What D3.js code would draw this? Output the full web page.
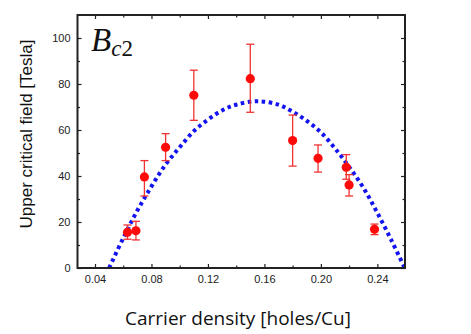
<!DOCTYPE html>
<html>
<head>
<meta charset="utf-8">
<script src="https://cdn.jsdelivr.net/npm/d3@7"></script>
<style>
  body { margin: 0; background: #fff; }
  svg { display: block; }
  .tick text { font-family: "Liberation Sans", Arial, sans-serif; font-size: 11px; fill: #222; }
</style>
</head>
<body>
<div id="chart"></div>
<script>
// measured points: doping (holes/Cu), Bc2 (Tesla), error bar ends
var dopings = [0.063, 0.069, 0.075, 0.090, 0.110, 0.150, 0.180, 0.198, 0.218, 0.220, 0.238];
var bc2     = [15.5, 16.2, 39.6, 52.5, 75.1, 82.3, 55.4, 47.7, 43.8, 36.1, 16.8];
var errHi   = [18.7, 20.3, 46.7, 58.4, 86.0, 97.3, 66.5, 53.5, 49.3, 40.6, 19.1];
var errLo   = [12.5, 12.2, 31.3, 46.7, 64.2, 67.7, 44.3, 41.7, 38.6, 31.3, 14.5];

// dome fit
var fitX = [0.050, 0.06, 0.07, 0.08, 0.09, 0.10, 0.11, 0.12, 0.13, 0.14, 0.155, 0.17, 0.18, 0.19, 0.20, 0.21, 0.22, 0.23, 0.24, 0.25, 0.259];
var fitY = [0, 13, 25, 35.5, 45, 52.5, 59.5, 64.5, 68.5, 71, 72.5, 71, 68, 64, 59, 52, 44, 35, 24, 12, 0.5];

var xMajor = [0.04, 0.08, 0.12, 0.16, 0.20, 0.24];
var xMinor = [0.06, 0.10, 0.14, 0.18, 0.22];
var yMajor = [0, 20, 40, 60, 80, 100];
var yMinor = [10, 30, 50, 70, 90];

var W = 471, H = 334;
var m = {left: 77.5, right: 405, top: 15, bottom: 268};

var svg = d3.select('#chart').append('svg')
  .attr('width', W)
  .attr('height', H);

var x = d3.scaleLinear().domain([0.0276, 0.2596]).range([m.left, m.right]);
var y = d3.scaleLinear().domain([0, 110]).range([m.bottom, m.top]);

svg.append('clipPath').attr('id', 'plotclip')
  .append('rect')
  .attr('x', m.left).attr('y', m.top)
  .attr('width', m.right - m.left).attr('height', m.bottom - m.top);

// ticks, all pointing inward
function addAxis(axis, tx, ty) {
  var g = svg.append('g').attr('transform', 'translate(' + tx + ',' + ty + ')').call(axis);
  g.select('.domain').remove();
  g.selectAll('.tick line').attr('stroke', '#222').attr('stroke-width', 1.2);
  return g;
}
addAxis(d3.axisBottom(x).tickValues(xMajor).tickSize(-4).tickPadding(7).tickFormat(d3.format('.2f')), 0, m.bottom);
addAxis(d3.axisBottom(x).tickValues(xMinor).tickSize(-2.5).tickFormat(''), 0, m.bottom);
addAxis(d3.axisTop(x).tickValues(xMajor).tickSize(-4).tickFormat(''), 0, m.top);
addAxis(d3.axisTop(x).tickValues(xMinor).tickSize(-2.5).tickFormat(''), 0, m.top);
addAxis(d3.axisLeft(y).tickValues(yMajor).tickSize(-4).tickPadding(7).tickFormat(d3.format('d')), m.left, 0);
addAxis(d3.axisLeft(y).tickValues(yMinor).tickSize(-2.5).tickFormat(''), m.left, 0);
addAxis(d3.axisRight(y).tickValues(yMajor).tickSize(-4).tickFormat(''), m.right, 0);
addAxis(d3.axisRight(y).tickValues(yMinor).tickSize(-2.5).tickFormat(''), m.right, 0);

// dotted fit curve
var fit = fitX.map(function (d, i) { return [d, fitY[i]]; });
svg.append('path')
  .datum(fit)
  .attr('clip-path', 'url(#plotclip)')
  .attr('fill', 'none')
  .attr('stroke', '#1414f0')
  .attr('stroke-width', 4)
  .attr('stroke-dasharray', '3.5 3.5')
  .attr('d', d3.line()
    .x(function (d) { return x(d[0]); })
    .y(function (d) { return y(d[1]); })
    .curve(d3.curveCatmullRom));

// error bars
var bars = svg.append('g').attr('stroke', '#f03232').attr('stroke-width', 1.3);
dopings.forEach(function (d, i) {
  var cx = x(d);
  bars.append('line').attr('x1', cx).attr('x2', cx).attr('y1', y(errHi[i])).attr('y2', y(errLo[i]));
  bars.append('line').attr('x1', cx - 4).attr('x2', cx + 4).attr('y1', y(errHi[i])).attr('y2', y(errHi[i]));
  bars.append('line').attr('x1', cx - 4).attr('x2', cx + 4).attr('y1', y(errLo[i])).attr('y2', y(errLo[i]));
});

svg.append('g').selectAll('circle')
  .data(dopings)
  .enter()
  .append('circle')
  .attr('cx', function (d) { return x(d); })
  .attr('cy', function (d, i) { return y(bc2[i]); })
  .attr('r', 4.6)
  .attr('fill', '#ff0a0a');

// frame
svg.append('rect')
  .attr('x', m.left).attr('y', m.top)
  .attr('width', m.right - m.left).attr('height', m.bottom - m.top)
  .attr('fill', 'none')
  .attr('stroke', '#222')
  .attr('stroke-width', 2);

// B_c2 label
var lbl = svg.append('text')
  .attr('x', 91)
  .attr('y', 51)
  .style('font-family', '"Liberation Serif", "Times New Roman", serif')
  .style('font-size', '33px')
  .style('fill', '#111');
lbl.append('tspan').style('font-style', 'italic').text('B');
lbl.append('tspan').attr('dy', 5).style('font-size', '23px').style('font-style', 'italic').text('c');
lbl.append('tspan').style('font-size', '23px').text('2');

// axis titles
svg.append('text')
  .attr('x', 238)
  .attr('y', 325)
  .attr('text-anchor', 'middle')
  .style('font-family', '"Open Sans", sans-serif')
  .style('font-size', '19px')
  .style('fill', '#111')
  .text('Carrier density [holes/Cu]');

svg.append('text')
  .attr('transform', 'translate(32,134) rotate(-90)')
  .attr('text-anchor', 'middle')
  .style('font-family', '"Liberation Sans", Arial, sans-serif')
  .style('font-size', '17px')
  .style('fill', '#111')
  .text('Upper critical field [Tesla]');
</script>
</body>
</html>
